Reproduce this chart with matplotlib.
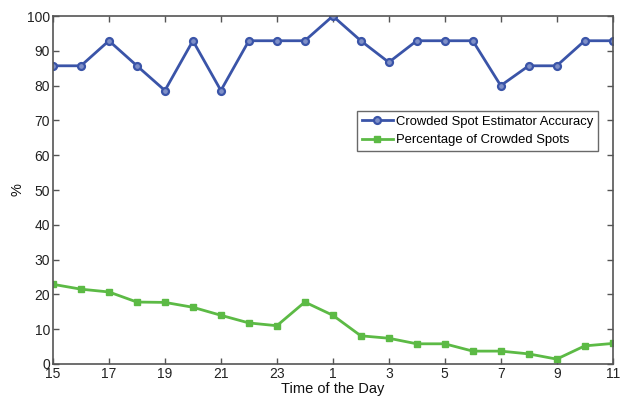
import matplotlib
matplotlib.use("Agg")
import matplotlib.pyplot as plt

plt.rcParams['font.family'] = ['Liberation Sans', 'DejaVu Sans']

hours = [15, 16, 17, 18, 19, 20, 21, 22, 23, 0, 1, 2, 3, 4, 5, 6, 7, 8, 9, 10, 11]
accuracy = [85.7, 85.7, 92.9, 85.7, 78.6, 92.9, 78.6, 92.9, 92.9, 92.9, 100.0,
            92.9, 86.7, 92.9, 92.9, 92.9, 80.0, 85.7, 85.7, 92.9, 92.9]
crowded = [22.9, 21.5, 20.7, 17.8, 17.7, 16.3, 14.0, 11.8, 11.0, 17.8, 14.0,
           8.1, 7.4, 5.8, 5.8, 3.7, 3.7, 2.9, 1.4, 5.2, 5.9]

x = list(range(len(hours)))

fig = plt.figure(figsize=(6.21, 4.01), dpi=100)
ax = fig.add_axes([0.0853, 0.0923, 0.9013, 0.8677])

blue = '#3a54a8'
green = '#5cba45'
ax.plot(x, accuracy, '-o', color=blue, lw=2, ms=5, mfc='#7f90c8', mec=blue, mew=1.6,
        label='Crowded Spot Estimator Accuracy')
ax.plot(x, crowded, '-s', color=green, lw=2, ms=4.5, mfc=green, mec=green,
        label='Percentage of Crowded Spots')

ax.set_xlim(0, 20)
ax.set_ylim(0, 100)
ax.set_xticks(x[::2])
ax.set_xticklabels([str(h) for h in hours[::2]])
ax.set_yticks(range(0, 101, 10))

axc = '#555555'
for s in ax.spines.values():
    s.set_color(axc)
    s.set_linewidth(1.2)
ax.tick_params(direction='in', top=True, right=True, length=4, width=1,
               colors=axc, labelcolor='#222222', labelsize=10, pad=2)

ax.set_xlabel('Time of the Day', fontsize=10.5, color='#111111', labelpad=1)
ax.set_ylabel('%', fontsize=10.5, color='#111111', labelpad=2)

leg = ax.legend(loc='upper left', bbox_to_anchor=(0.5436, 0.727), fontsize=9.4,
                frameon=True, fancybox=False, borderaxespad=0, handlelength=2.4,
                handletextpad=0.2, borderpad=0.35, labelspacing=0.5)
leg.get_frame().set_edgecolor('#444444')
leg.get_frame().set_linewidth(1)

fig.savefig('out.png', dpi=100)
